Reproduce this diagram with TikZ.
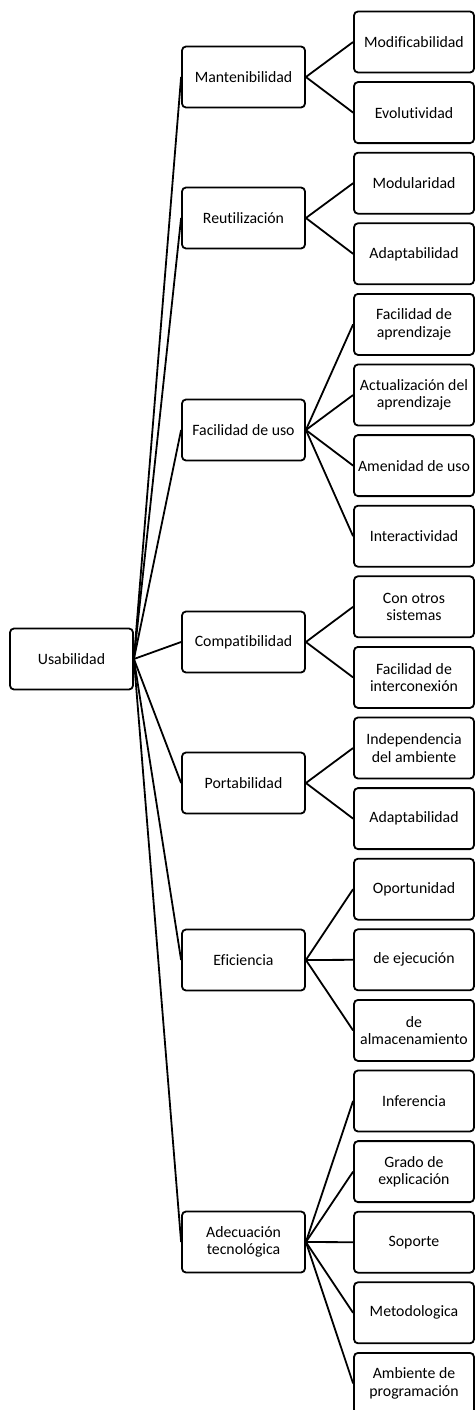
\documentclass[tikz,border=0pt]{standalone}
\usepackage{fontspec}
\setmainfont{Carlito}[RawFeature={-liga}]
\begin{document}
\begin{tikzpicture}[x=1pt,y=-1pt,
  box/.style={draw=black, line width=1.8pt, rounded corners=4pt, align=center,
    inner sep=2pt, font=\fontsize{15.8}{17.5}\selectfont},
  rootbox/.style={box, minimum width=123pt, minimum height=61pt},
  midbox/.style={box, minimum width=123pt, minimum height=61pt},
  leafbox/.style={box, minimum width=120pt, minimum height=61pt},
  link/.style={draw=black, line width=1.8pt}]
\useasboundingbox (0,0) rectangle (475,1410);

% root
\node[rootbox] (root) at (71.5,659) {Usabilidad};

% second level
\node[midbox] (m1) at (243.5,77)   {Mantenibilidad};
\node[midbox] (m2) at (243.5,218)  {Reutilización};
\node[midbox] (m3) at (243.5,430)  {Facilidad de uso};
\node[midbox] (m4) at (243.5,642)  {Compatibilidad};
\node[midbox] (m5) at (243.5,783)  {Portabilidad};
\node[midbox] (m6) at (243.5,960)  {Eficiencia};
\node[midbox] (m7) at (243.5,1242) {Adecuación\\tecnológica};

% leaves
\def\lx{414}
\node[leafbox] (l1)  at (\lx,42)   {Modificabilidad};
\node[leafbox] (l2)  at (\lx,112.6) {Evolutividad};
\node[leafbox] (l3)  at (\lx,183.2) {Modularidad};
\node[leafbox] (l4)  at (\lx,253.8) {Adaptabilidad};
\node[leafbox] (l5)  at (\lx,324.4) {Facilidad de\\aprendizaje};
\node[leafbox] (l6)  at (\lx,395)   {Actualización del\\aprendizaje};
\node[leafbox] (l7)  at (\lx,465.6) {Amenidad de uso};
\node[leafbox] (l8)  at (\lx,536.2) {Interactividad};
\node[leafbox] (l9)  at (\lx,606.8) {Con otros\\sistemas};
\node[leafbox] (l10) at (\lx,677.4) {Facilidad de\\interconexión};
\node[leafbox] (l11) at (\lx,748)   {Independencia\\del ambiente};
\node[leafbox] (l12) at (\lx,818.6) {Adaptabilidad};
\node[leafbox] (l13) at (\lx,889.2) {Oportunidad};
\node[leafbox] (l14) at (\lx,959.8) {de ejecución};
\node[leafbox] (l15) at (\lx,1030.4) {de\\almacenamiento};
\node[leafbox] (l16) at (\lx,1101)  {Inferencia};
\node[leafbox] (l17) at (\lx,1171.6) {Grado de\\explicación};
\node[leafbox] (l18) at (\lx,1242.2) {Soporte};
\node[leafbox] (l19) at (\lx,1312.8) {Metodologica};
\node[leafbox] (l20) at (\lx,1383.4) {Ambiente de\\programación};

% root to second level
\foreach \m in {m1,m2,m3,m4,m5,m6,m7}
  \draw[link] (root.east) -- (\m.west);

% second level to leaves
\foreach \m/\l in {m1/l1,m1/l2,m2/l3,m2/l4,m3/l5,m3/l6,m3/l7,m3/l8,
                   m4/l9,m4/l10,m5/l11,m5/l12,m6/l13,m6/l14,m6/l15,
                   m7/l16,m7/l17,m7/l18,m7/l19,m7/l20}
  \draw[link] (\m.east) -- (\l.west);
\end{tikzpicture}
\end{document}
